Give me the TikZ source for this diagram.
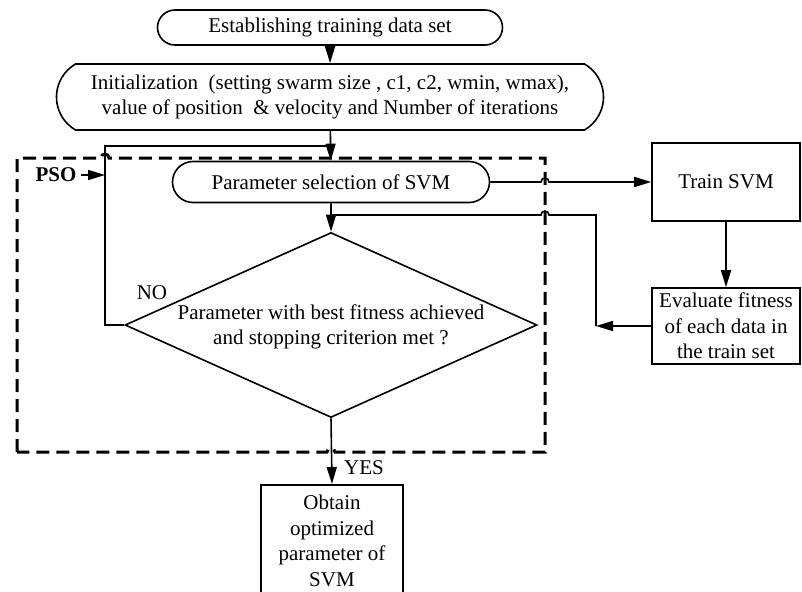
\documentclass[tikz,border=0pt]{standalone}
\usepackage{fontspec}
\setmainfont{Liberation Serif}
\usepackage{tikz}
\usetikzlibrary{shapes,arrows.meta,positioning}

\begin{document}
\begin{tikzpicture}[x=1pt,y=-1pt,line width=1.6pt,
    font=\fontsize{21}{25.5}\selectfont,
    pill/.style={draw, rounded rectangle, inner sep=2pt},
    box/.style={draw, rectangle, inner sep=2pt, align=center},
    flow/.style={-{Triangle[length=17pt,width=10pt]}},
    psobox/.style={line width=3pt, dash pattern=on 13pt off 7pt}]
    \path[use as bounding box] (0,0) rectangle (802,591);
    % nodes
    \node[pill, minimum width=349, minimum height=35] (est) at (330,27.5) {Establishing training data set};
    \node[pill, rounded rectangle arc length=120, minimum width=551, minimum height=66, align=center] (init) at (330,97)
        {Initialization~ (setting swarm size , c1, c2, wmin, wmax),\\value of position~ \& velocity and Number of iterations};
    \node[pill, minimum width=321, minimum height=41] (param) at (331,182) {Parameter selection of SVM};
    \node[draw, diamond, minimum width=412, minimum height=185, inner sep=0pt] (cond) at (331,325) {};
    \node[align=center] (condtext) at (331,327) {Parameter with best fitness achieved\\and stopping criterion met ?};
    \node[box, minimum width=148, minimum height=78] (train) at (726,182) {Train SVM};
    \node[box, minimum width=148, minimum height=76] (eval) at (726,326) {Evaluate fitness\\of each data in\\the train set};
    \node[box, minimum width=142, minimum height=112, anchor=north] (obtain) at (332,484) {Obtain\\optimized\\parameter of\\SVM};
    \node (no) at (152,293) {NO};
    \node (yes) at (364,468) {YES};
    \node (pso) at (56,175) {\bfseries PSO};
    \coordinate (loop) at (105,146);
    \coordinate (merge) at (330,146);
    \coordinate (psoend) at (105,175);
    \coordinate (ret) at (596,326);
    % connectors
    \draw[flow] (est) -- (init);
    \draw[flow] (init) -- (param);
    \draw[flow] (param) -- (cond.north);
    \draw (cond.west) -| (loop) -- (merge);
    \draw[flow] (pso.east) -- (psoend);
    \draw[flow] (param.east) -- (541,182) arc[start angle=180,end angle=0,radius=4pt] -- (train.west);
    \draw[flow] (train) -- (eval);
    \draw[flow] (eval.west) -- (ret);
    \draw (ret) -- (596,215) -- (549,215) arc[start angle=0,end angle=180,radius=4pt] -- (331,215);
    \draw[flow] (cond.south) -- (obtain.north);
    % PSO frame
    \draw[psobox] (17,452) -- (17,158) -- (101,158) arc[start angle=180,end angle=0,radius=4pt]
        -- (545,158) -- (545,452) -- (335,452) arc[start angle=0,end angle=180,radius=4pt] -- cycle;
\end{tikzpicture}
\end{document}
